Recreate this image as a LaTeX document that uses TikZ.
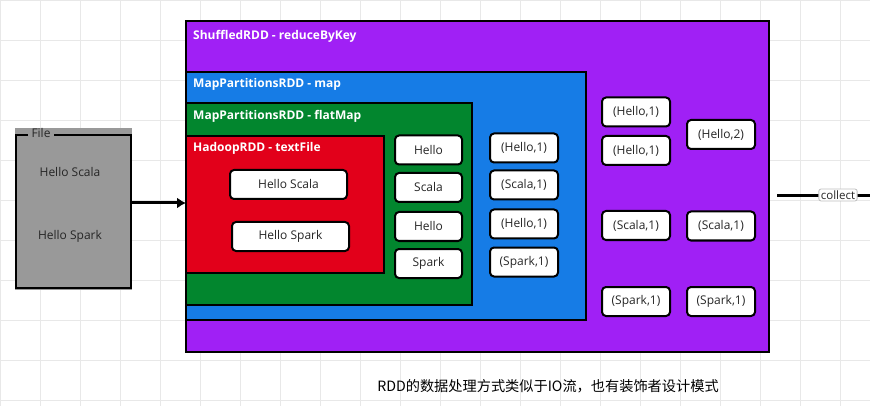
\documentclass[tikz,border=0pt]{standalone}
\usepackage{fontspec}
\usetikzlibrary{arrows.meta}
\setmainfont{Open Sans}
\newfontfamily\cjk{Noto Sans CJK SC}
\definecolor{cpurple}{RGB}{160,32,245}
\definecolor{cblue}{RGB}{22,124,230}
\definecolor{cgreen}{RGB}{2,134,46}
\definecolor{cred}{RGB}{226,0,26}
\definecolor{cgray}{RGB}{153,153,153}
\definecolor{cgrid}{RGB}{232,232,232}
\tikzset{
  layer/.style={draw=black, line width=2.6pt},
  ttl/.style={anchor=west, text=white, font=\bfseries\fontsize{12}{14}\selectfont, inner sep=0pt},
  item/.style={draw=black, line width=2pt, fill=white, rounded corners=4pt, font=\fontsize{12}{14}\selectfont, inner sep=0pt, text=black!85},
  plain/.style={font=\fontsize{12}{14}\selectfont, inner sep=0pt, text=black!85}
}
\begin{document}
\begin{tikzpicture}[x=1pt,y=-1pt]
\useasboundingbox (0,0) rectangle (870,406);
\fill[white] (0,0) rectangle (870,406);
\draw[cgrid, line width=0.6pt, step=40pt] (0,0) grid (870,406);
% File box
\fill[cgray] (15,128) rectangle (132,290);
\draw[line width=2.6pt] (28,135) -- (16,135) -- (16,288) -- (131,288) -- (131,135) -- (54,135);
\node[plain, anchor=base] (filelbl) at (41,138) {File};
\node[plain] (fa) at (70,172) {Hello Scala};
\node[plain] (fb) at (70,236) {Hello Spark};
\coordinate (fileR) at (131,203);
% layers
\draw[layer, fill=cpurple] (186,21) rectangle (769,352);
\node[ttl] (tp) at (193,36) {ShuffledRDD - reduceByKey};
\draw[layer, fill=cblue] (186,72) rectangle (586,320);
\node[ttl] (tb) at (193,84) {MapPartitionsRDD - map};
\draw[layer, fill=cgreen] (186,103) rectangle (472,305);
\node[ttl] (tg) at (193,116) {MapPartitionsRDD - flatMap};
\draw[layer, fill=cred] (186,136) rectangle (384,273);
\node[ttl] (tr) at (193,148) {HadoopRDD - textFile};
\coordinate (redL) at (186,203);
\draw[line width=3pt, -{Latex[length=9pt,width=11pt]}] (fileR) -- (redL);
% red items
\node[item, minimum width=117pt, minimum height=29pt] (hs1) at (288.5,184.5) {Hello Scala};
\node[item, minimum width=117pt, minimum height=29pt] (hs2) at (290.5,236.5) {Hello Spark};
% flatMap items
\node[item, minimum width=67pt, minimum height=29pt] (w1) at (428.5,150) {Hello};
\node[item, minimum width=67pt, minimum height=29pt] (w2) at (428.5,187.5) {Scala};
\node[item, minimum width=67pt, minimum height=29pt] (w3) at (428.5,226.5) {Hello};
\node[item, minimum width=67pt, minimum height=29pt] (w4) at (428.5,263.5) {Spark};
% map items
\node[item, minimum width=68pt, minimum height=29pt] (m1) at (524,148) {(Hello,1)};
\node[item, minimum width=68pt, minimum height=29pt] (m2) at (524,185) {(Scala,1)};
\node[item, minimum width=68pt, minimum height=29pt] (m3) at (524,224) {(Hello,1)};
\node[item, minimum width=68pt, minimum height=29pt] (m4) at (524,262) {(Spark,1)};
% reduce items
\node[item, minimum width=68pt, minimum height=29pt] (r1) at (636,112) {(Hello,1)};
\node[item, minimum width=68pt, minimum height=29pt] (r2) at (636,150.5) {(Hello,1)};
\node[item, minimum width=68pt, minimum height=29pt] (r3) at (636,225.5) {(Scala,1)};
\node[item, minimum width=68pt, minimum height=29pt] (r4) at (636,301.5) {(Spark,1)};
\node[item, minimum width=68pt, minimum height=29pt] (s1) at (721,134.5) {(Hello,2)};
\node[item, minimum width=68pt, minimum height=29pt] (s2) at (721,226) {(Scala,1)};
\node[item, minimum width=68pt, minimum height=29pt] (s3) at (721,301.5) {(Spark,1)};
% collect
\coordinate (cs) at (777,196);
\coordinate (ce) at (870,196);
\draw[line width=3pt] (cs) -- (ce);
\node[draw=black!25, line width=0.8pt, fill=white, rounded corners=2pt, font=\fontsize{11.5}{13}\selectfont, text=black!85, inner xsep=2pt, inner ysep=1.5pt] (col) at (838,195) {collect};
% caption
\node[font=\cjk\fontsize{14.2}{17}\selectfont, inner sep=0pt] (cap) at (548,386) {RDD的数据处理方式类似于IO流，也有装饰者设计模式};
\end{tikzpicture}
\end{document}
